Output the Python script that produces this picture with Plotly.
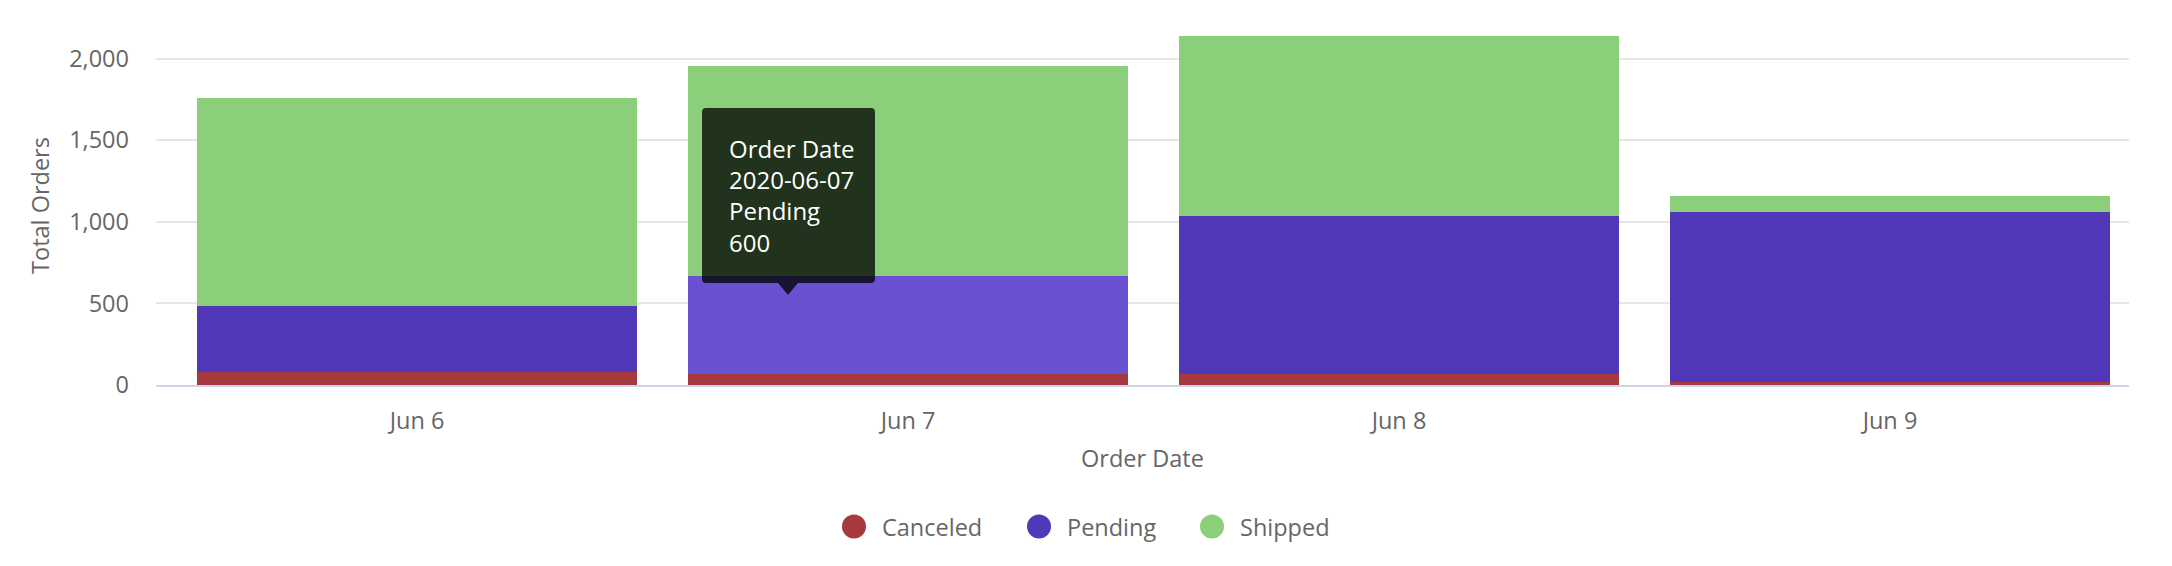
import plotly.graph_objects as go

# order counts per day
dates = ["2020-06-06", "2020-06-07", "2020-06-08", "2020-06-09"]
date_labels = ["Jun 6", "Jun 7", "Jun 8", "Jun 9"]
series_names = ["Canceled", "Pending", "Shipped"]
canceled = [77, 65, 65, 17]
pending = [405, 600, 970, 1043]
shipped = [1278, 1290, 1106, 98]
y_ticks = [0, 500, 1000, 1500, 2000]

colors = ["#a6393d", "#5038b8", "#8bcf7a"]
hover_color = "#6951d2"
hovered = 1  # Jun 7 / Pending is shown in its hover state

W, H = 2172, 566
OFF = 8  # default body margin of the page
L, R, T, B = 156, 2129, 26, 385  # plot area in window pixels
FONT = "Open Sans, Noto Sans, sans-serif"
GREY = "#666666"


def px(x):
    return (x - L) / (R - L)


def py(y):
    return (B - y) / (B - T)


values = [canceled, pending, shipped]
fig = go.Figure()
for name, vals, col in zip(series_names, values, colors):
    bar_colors = [col] * len(dates)
    if name == "Pending":
        bar_colors[hovered] = hover_color
    fig.add_trace(go.Bar(
        x=dates, y=vals, name=name,
        marker=dict(color=bar_colors, line_width=0),
        showlegend=False,
        hovertemplate="Order Date<br>%{x}<br>" + name + "<br>%{y}<extra></extra>",
    ))

# tooltip box as it appears in the screenshot
x0, x1, y0, y1, r = 702, 875, 108, 283, 4
tip_x, tip_y, half = 788, 295, 10
pts = [
    ("M", [(x0 + r, y0)]), ("L", [(x1 - r, y0)]), ("Q", [(x1, y0), (x1, y0 + r)]),
    ("L", [(x1, y1 - r)]), ("Q", [(x1, y1), (x1 - r, y1)]),
    ("L", [(tip_x + half, y1)]), ("L", [(tip_x, tip_y)]), ("L", [(tip_x - half, y1)]),
    ("L", [(x0 + r, y1)]), ("Q", [(x0, y1), (x0, y1 - r)]),
    ("L", [(x0, y0 + r)]), ("Q", [(x0, y0), (x0 + r, y0)]),
]
path = " ".join(c + " " + " ".join(f"{px(a):.5f},{py(b):.5f}" for a, b in p) for c, p in pts) + " Z"

shapes = [dict(type="path", path=path, xref="paper", yref="paper",
               fillcolor="rgba(0,0,0,0.76)", line_width=0, layer="above")]

annotations = [dict(
    text=f"Order Date<br>{dates[hovered]}<br>{series_names[1]}<br>{pending[hovered]}",
    xref="paper", yref="paper", x=px(727), y=py(196), xanchor="left", yanchor="middle",
    align="left", showarrow=False, font=dict(family=FONT, size=24, color="white"),
)]

# legend with round markers, drawn by hand
legend_x = [854, 1039, 1212]
legend_y = 526.5
for name, col, lx in zip(series_names, colors, legend_x):
    shapes.append(dict(type="circle", xref="paper", yref="paper",
                       xsizemode="pixel", ysizemode="pixel",
                       xanchor=px(lx), yanchor=py(legend_y),
                       x0=-12, x1=12, y0=-12, y1=12,
                       fillcolor=col, line_width=0))
    annotations.append(dict(text=name, xref="paper", yref="paper",
                            x=px(lx + 26), y=py(legend_y), xanchor="left", yanchor="middle",
                            showarrow=False, font=dict(family=FONT, size=23.5, color=GREY)))

fig.update_layout(
    width=W - 2 * OFF, height=H - 2 * OFF,
    margin=dict(l=L - OFF, r=(W - OFF) - R, t=T - OFF, b=(H - OFF) - B),
    barmode="stack", bargap=0.102,
    paper_bgcolor="white", plot_bgcolor="white",
    font=dict(family=FONT, size=23.5, color=GREY),
    showlegend=False,
    shapes=shapes,
    annotations=annotations,
    xaxis=dict(
        type="category", tickvals=dates, ticktext=date_labels,
        range=[-0.5316, 3.4868],
        showgrid=False, zeroline=False,
        showline=True, linecolor="#ccd6eb", linewidth=1.5,
        ticks="", ticklabelstandoff=14,
        title=dict(text="Order Date", standoff=16, font=dict(size=23.5, color=GREY)),
    ),
    yaxis=dict(
        range=[0, 2200], tickvals=y_ticks, tickformat=",",
        showgrid=True, gridcolor="#e6e6e6", gridwidth=1.5,
        zeroline=False, showline=False,
        ticks="", ticklabelstandoff=26,
        title=dict(text="Total Orders", standoff=12, font=dict(size=23.5, color=GREY)),
    ),
)

fig.write_html("out.html")
